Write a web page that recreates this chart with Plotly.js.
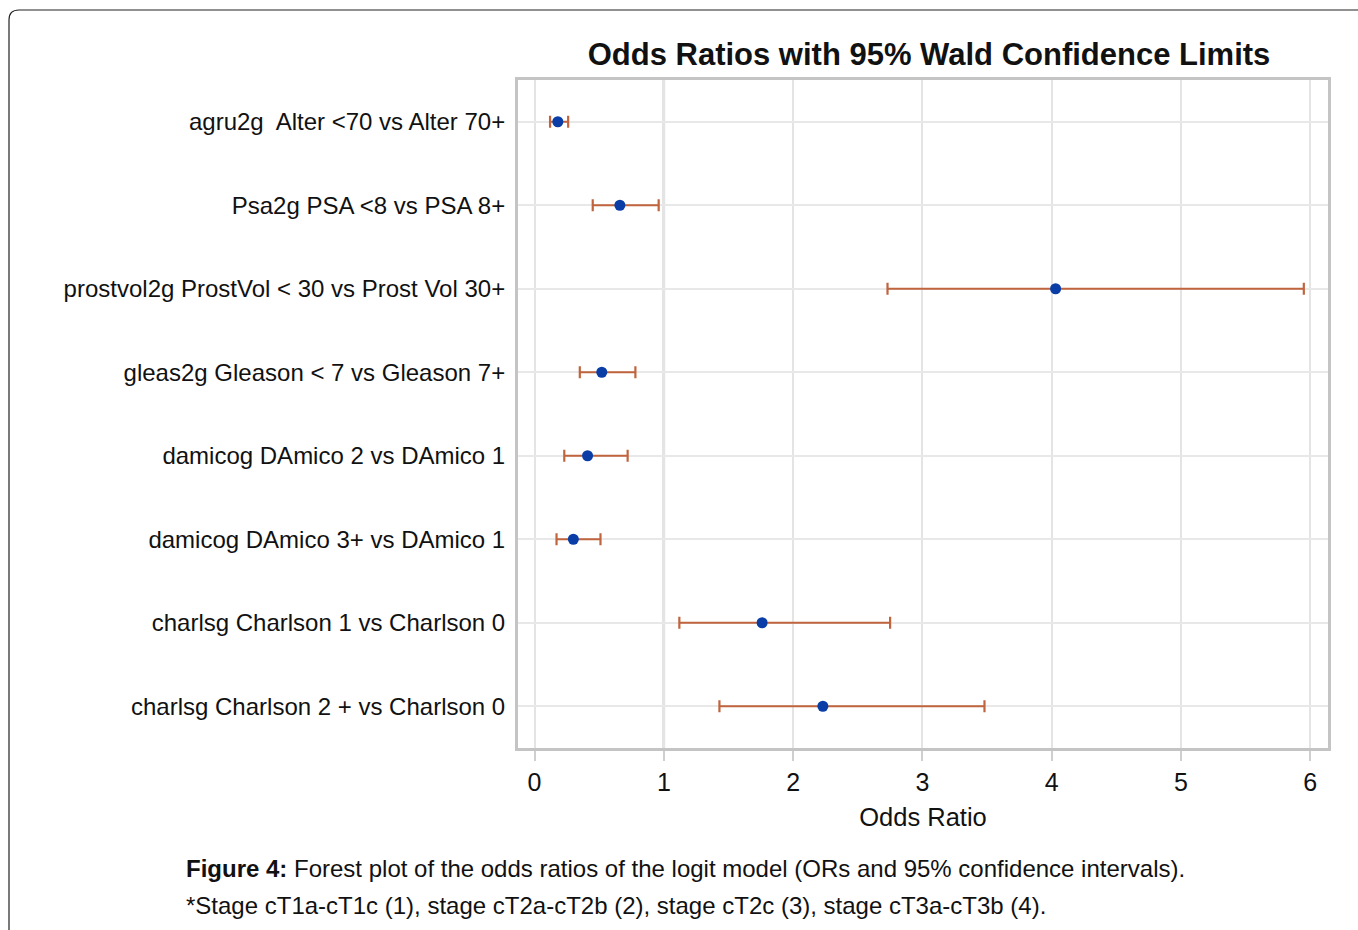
<!DOCTYPE html>
<html>
<head>
<meta charset="utf-8">
<script src="https://cdn.plot.ly/plotly-3.0.1.min.js"></script>
<style>
html,body{margin:0;padding:0;background:#fff;}
#chart{width:1358px;height:930px;}
</style>
</head>
<body>
<div id="chart"></div>
<script>
var labels = [
  "agru2g  Alter <70 vs Alter 70+",
  "Psa2g PSA <8 vs PSA 8+",
  "prostvol2g ProstVol < 30 vs Prost Vol 30+",
  "gleas2g Gleason < 7 vs Gleason 7+",
  "damicog DAmico 2 vs DAmico 1",
  "damicog DAmico 3+ vs DAmico 1",
  "charlsg Charlson 1 vs Charlson 0",
  "charlsg Charlson 2 + vs Charlson 0"
];
var oddsRatio = [0.18, 0.66, 4.03, 0.52, 0.41, 0.30, 1.76, 2.23];
var lowerCL   = [0.12, 0.45, 2.73, 0.35, 0.23, 0.17, 1.12, 1.43];
var upperCL   = [0.26, 0.96, 5.95, 0.78, 0.72, 0.51, 2.75, 3.48];
var xTicks = [0, 1, 2, 3, 4, 5, 6];

var plus = oddsRatio.map(function(v,i){return upperCL[i]-v;});
var minus = oddsRatio.map(function(v,i){return v-lowerCL[i];});

// plot area in pixels
var L=518, R=1328, T=80, B=748, W=1358, H=930;
var pw=R-L, ph=B-T;
function px(x){return (x-L)/pw;}
function py(y){return (B-y)/ph;}

var trace = {
  type: "scatter",
  mode: "markers",
  x: oddsRatio,
  y: labels,
  marker: {color: "#0a3ea6", size: 11, line: {width: 0}},
  error_x: {
    type: "data", symmetric: false,
    array: plus, arrayminus: minus,
    color: "#c0643e", thickness: 2.2, width: 6
  },
  showlegend: false,
  hoverinfo: "x+y"
};

var layout = {
  width: W, height: H,
  margin: {l: L, r: W-R, t: T, b: H-B, pad: 0},
  paper_bgcolor: "#ffffff",
  plot_bgcolor: "#ffffff",
  font: {family: "Liberation Sans, Arial, sans-serif", color: "#111"},
  title: {
    text: "<b>Odds Ratios with 95% Wald Confidence Limits</b>",
    font: {size: 31, color: "#111", family: "Liberation Sans, Arial, sans-serif"},
    x: px(929), xref: "paper", xanchor: "center",
    y: 1-54/H, yref: "container", yanchor: "middle"
  },
  xaxis: {
    range: [-0.128, 6.137],
    tickvals: xTicks,
    ticktext: xTicks.map(String),
    showgrid: true, gridcolor: "#e4e4e4", gridwidth: 2,
    zeroline: false,
    showline: true, linecolor: "#c4c4c4", linewidth: 3, mirror: true,
    ticks: "outside", ticklen: 10, tickwidth: 2, tickcolor: "#cfcfcf",
    tickfont: {size: 25, color: "#111"},
    title: {text: "Odds Ratio", font: {size: 25.5, color: "#111"}, standoff: 14}
  },
  yaxis: {
    type: "category",
    categoryorder: "array", categoryarray: labels,
    range: [7.5, -0.5],
    showgrid: true, gridcolor: "#e8e8e8", gridwidth: 2,
    zeroline: false,
    showline: true, linecolor: "#c4c4c4", linewidth: 3, mirror: true,
    ticks: "", ticklabelstandoff: 5,
    tickfont: {size: 24, color: "#111"}
  },
  shapes: [
    {type: "line", xref: "x", yref: "paper", x0: 1, x1: 1, y0: 0, y1: 1,
     line: {color: "#bdbdbd", width: 2.5}, layer: "below"},
    {type: "path", xref: "paper", yref: "paper",
     path: "M " + px(9) + "," + py(960) + " L " + px(9) + "," + py(20) +
           " Q " + px(9) + "," + py(10) + " " + px(19) + "," + py(10) +
           " L " + px(1400) + "," + py(10),
     line: {color: "#222", width: 1.2}}
  ],
  annotations: [
    {xref: "paper", yref: "paper", x: px(184), y: py(868), xanchor: "left", yanchor: "middle",
     showarrow: false, align: "left",
     text: "<b>Figure 4:</b> Forest plot of the odds ratios of the logit model (ORs and 95% confidence intervals).",
     font: {size: 24, color: "#111"}},
    {xref: "paper", yref: "paper", x: px(184), y: py(905), xanchor: "left", yanchor: "middle",
     showarrow: false, align: "left",
     text: "*Stage cT1a-cT1c (1), stage cT2a-cT2b (2), stage cT2c (3), stage cT3a-cT3b (4).",
     font: {size: 24, color: "#111"}}
  ]
};

Plotly.newPlot("chart", [trace], layout, {displayModeBar: false, staticPlot: true});
</script>
</body>
</html>
